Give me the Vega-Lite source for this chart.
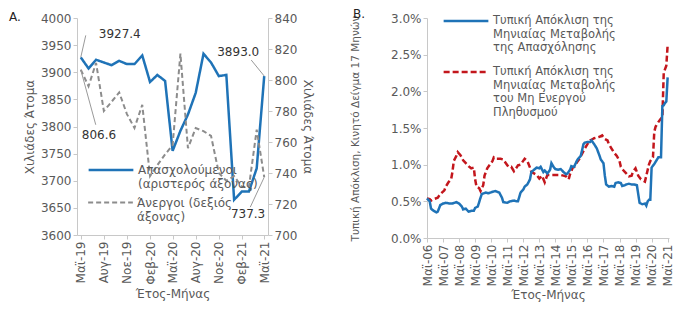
{
  "$schema": "https://vega.github.io/schema/vega-lite/v6.json",
  "background": "white",
  "padding": {"left": 9, "top": -3, "right": 5, "bottom": 5},
  "spacing": 36,
  "resolve": {"scale": {"color": "independent", "strokeDash": "independent"}, "legend": {"color": "independent", "strokeDash": "independent"}},
  "config": {
    "font": "DejaVu Sans",
    "view": {"stroke": null},
    "axis": {"labelFont": "DejaVu Sans", "labelFontSize": 12, "labelColor": "#595959", "titleFont": "DejaVu Sans", "titleFontSize": 12, "titleFontWeight": "normal", "titleColor": "#595959", "domainColor": "#c8c8c8", "tickColor": "#c8c8c8", "grid": false, "tickSize": 4},
    "legend": {"labelFont": "DejaVu Sans", "labelFontSize": 12, "labelColor": "#595959", "symbolType": "stroke", "symbolSize": 2000, "symbolStrokeWidth": 2.5, "labelLimit": 300, "orient": "none", "labelOffset": 3},
    "title": {"font": "DejaVu Sans", "fontSize": 12, "fontWeight": "normal", "color": "#222", "anchor": "start", "frame": "group"}
  },
  "datasets": {
    "panelA": [
      {"month": "2019-05", "employed": 3927.4, "unemployed": 806.6},
      {"month": "2019-06", "employed": 3907, "unemployed": 796},
      {"month": "2019-07", "employed": 3923, "unemployed": 811},
      {"month": "2019-08", "employed": 3918, "unemployed": 780},
      {"month": "2019-09", "employed": 3913, "unemployed": 786},
      {"month": "2019-10", "employed": 3921, "unemployed": 792},
      {"month": "2019-11", "employed": 3915, "unemployed": 778},
      {"month": "2019-12", "employed": 3915, "unemployed": 769},
      {"month": "2020-01", "employed": 3931, "unemployed": 784},
      {"month": "2020-02", "employed": 3882, "unemployed": 738},
      {"month": "2020-03", "employed": 3895, "unemployed": 745},
      {"month": "2020-04", "employed": 3884, "unemployed": 752},
      {"month": "2020-05", "employed": 3755, "unemployed": 758},
      {"month": "2020-06", "employed": 3792, "unemployed": 817},
      {"month": "2020-07", "employed": 3822, "unemployed": 756},
      {"month": "2020-08", "employed": 3862, "unemployed": 769},
      {"month": "2020-09", "employed": 3934, "unemployed": 767},
      {"month": "2020-10", "employed": 3918, "unemployed": 764},
      {"month": "2020-11", "employed": 3893, "unemployed": 740},
      {"month": "2020-12", "employed": 3895, "unemployed": 735},
      {"month": "2021-01", "employed": 3665, "unemployed": 738},
      {"month": "2021-02", "employed": 3680, "unemployed": 731},
      {"month": "2021-03", "employed": 3680, "unemployed": 731},
      {"month": "2021-04", "employed": 3723, "unemployed": 768},
      {"month": "2021-05", "employed": 3893.0, "unemployed": 737.3}
    ],
    "empB": [
      {"month": "2006-05", "value": 0.54}, {"month": "2006-07", "value": 0.50}, {"month": "2006-08", "value": 0.40}, {"month": "2006-10", "value": 0.37}, {"month": "2006-12", "value": 0.35},
      {"month": "2007-01", "value": 0.36}, {"month": "2007-03", "value": 0.45}, {"month": "2007-05", "value": 0.47}, {"month": "2007-07", "value": 0.48}, {"month": "2007-10", "value": 0.47}, {"month": "2007-12", "value": 0.47},
      {"month": "2008-03", "value": 0.49}, {"month": "2008-05", "value": 0.47}, {"month": "2008-07", "value": 0.43}, {"month": "2008-08", "value": 0.39}, {"month": "2008-10", "value": 0.40}, {"month": "2008-12", "value": 0.36},
      {"month": "2009-02", "value": 0.37}, {"month": "2009-04", "value": 0.37}, {"month": "2009-05", "value": 0.41}, {"month": "2009-07", "value": 0.43}, {"month": "2009-09", "value": 0.55}, {"month": "2009-10", "value": 0.60},
      {"month": "2010-01", "value": 0.62}, {"month": "2010-03", "value": 0.61}, {"month": "2010-06", "value": 0.63}, {"month": "2010-08", "value": 0.64}, {"month": "2010-11", "value": 0.62},
      {"month": "2011-01", "value": 0.55}, {"month": "2011-02", "value": 0.49}, {"month": "2011-05", "value": 0.48}, {"month": "2011-07", "value": 0.50}, {"month": "2011-10", "value": 0.51}, {"month": "2011-12", "value": 0.50},
      {"month": "2012-01", "value": 0.50}, {"month": "2012-03", "value": 0.62}, {"month": "2012-05", "value": 0.66}, {"month": "2012-06", "value": 0.70}, {"month": "2012-08", "value": 0.73}, {"month": "2012-10", "value": 0.80}, {"month": "2012-11", "value": 0.90},
      {"month": "2013-01", "value": 0.93}, {"month": "2013-03", "value": 0.96}, {"month": "2013-05", "value": 0.95}, {"month": "2013-06", "value": 0.97}, {"month": "2013-08", "value": 0.90}, {"month": "2013-09", "value": 0.92}, {"month": "2013-11", "value": 0.88},
      {"month": "2014-01", "value": 0.93}, {"month": "2014-02", "value": 1.02}, {"month": "2014-04", "value": 0.96}, {"month": "2014-05", "value": 0.94}, {"month": "2014-07", "value": 0.93}, {"month": "2014-09", "value": 0.94}, {"month": "2014-11", "value": 0.90},
      {"month": "2015-01", "value": 0.87}, {"month": "2015-02", "value": 0.88}, {"month": "2015-04", "value": 0.93}, {"month": "2015-05", "value": 0.98}, {"month": "2015-07", "value": 0.97}, {"month": "2015-09", "value": 1.05}, {"month": "2015-10", "value": 1.08}, {"month": "2015-12", "value": 1.12},
      {"month": "2016-02", "value": 1.28}, {"month": "2016-03", "value": 1.30}, {"month": "2016-05", "value": 1.31}, {"month": "2016-07", "value": 1.31}, {"month": "2016-08", "value": 1.33}, {"month": "2016-10", "value": 1.28}, {"month": "2016-12", "value": 1.22},
      {"month": "2017-02", "value": 1.12}, {"month": "2017-03", "value": 1.07}, {"month": "2017-05", "value": 1.02}, {"month": "2017-06", "value": 0.85}, {"month": "2017-07", "value": 0.73}, {"month": "2017-09", "value": 0.70}, {"month": "2017-11", "value": 0.71},
      {"month": "2018-01", "value": 0.70}, {"month": "2018-02", "value": 0.75}, {"month": "2018-04", "value": 0.76}, {"month": "2018-06", "value": 0.75}, {"month": "2018-07", "value": 0.71}, {"month": "2018-09", "value": 0.72}, {"month": "2018-10", "value": 0.73}, {"month": "2018-12", "value": 0.74},
      {"month": "2019-02", "value": 0.73}, {"month": "2019-04", "value": 0.73}, {"month": "2019-06", "value": 0.72}, {"month": "2019-07", "value": 0.60}, {"month": "2019-08", "value": 0.48}, {"month": "2019-10", "value": 0.46}, {"month": "2019-12", "value": 0.47},
      {"month": "2020-01", "value": 0.44}, {"month": "2020-02", "value": 0.50}, {"month": "2020-03", "value": 0.52}, {"month": "2020-04", "value": 0.52}, {"month": "2020-05", "value": 0.96}, {"month": "2020-07", "value": 1.01}, {"month": "2020-08", "value": 1.04}, {"month": "2020-10", "value": 1.10}, {"month": "2020-11", "value": 1.10}, {"month": "2020-12", "value": 1.10},
      {"month": "2021-01", "value": 1.80}, {"month": "2021-02", "value": 1.81}, {"month": "2021-03", "value": 1.84}, {"month": "2021-04", "value": 1.86}, {"month": "2021-05", "value": 2.19}
    ],
    "inactB": [
      {"month": "2006-05", "value": 0.54}, {"month": "2006-07", "value": 0.53}, {"month": "2006-08", "value": 0.51}, {"month": "2006-10", "value": 0.53},
      {"month": "2007-01", "value": 0.55}, {"month": "2007-03", "value": 0.60}, {"month": "2007-06", "value": 0.65}, {"month": "2007-07", "value": 0.70}, {"month": "2007-09", "value": 0.76}, {"month": "2007-11", "value": 0.80}, {"month": "2007-12", "value": 0.90},
      {"month": "2008-01", "value": 1.05}, {"month": "2008-03", "value": 1.12}, {"month": "2008-04", "value": 1.17}, {"month": "2008-06", "value": 1.13}, {"month": "2008-08", "value": 1.06}, {"month": "2008-10", "value": 1.02}, {"month": "2008-12", "value": 0.98},
      {"month": "2009-02", "value": 0.95}, {"month": "2009-04", "value": 0.96}, {"month": "2009-05", "value": 0.80}, {"month": "2009-06", "value": 0.70}, {"month": "2009-08", "value": 0.68}, {"month": "2009-09", "value": 0.64}, {"month": "2009-11", "value": 0.72}, {"month": "2009-12", "value": 0.85},
      {"month": "2010-02", "value": 0.95}, {"month": "2010-04", "value": 1.00}, {"month": "2010-06", "value": 1.05}, {"month": "2010-07", "value": 1.10}, {"month": "2010-09", "value": 1.08}, {"month": "2010-12", "value": 1.08},
      {"month": "2011-02", "value": 1.07}, {"month": "2011-04", "value": 1.02}, {"month": "2011-06", "value": 0.97}, {"month": "2011-08", "value": 0.97}, {"month": "2011-10", "value": 0.91}, {"month": "2011-12", "value": 0.96},
      {"month": "2012-01", "value": 0.99}, {"month": "2012-03", "value": 1.00}, {"month": "2012-06", "value": 1.08}, {"month": "2012-08", "value": 1.05}, {"month": "2012-10", "value": 0.96}, {"month": "2012-11", "value": 0.90},
      {"month": "2013-01", "value": 0.88}, {"month": "2013-03", "value": 0.86}, {"month": "2013-05", "value": 0.81}, {"month": "2013-07", "value": 0.85}, {"month": "2013-09", "value": 0.76}, {"month": "2013-11", "value": 0.86},
      {"month": "2014-01", "value": 0.86}, {"month": "2014-04", "value": 0.86}, {"month": "2014-06", "value": 0.86}, {"month": "2014-09", "value": 0.86}, {"month": "2014-11", "value": 0.85},
      {"month": "2015-01", "value": 0.84}, {"month": "2015-03", "value": 0.80}, {"month": "2015-04", "value": 0.87}, {"month": "2015-06", "value": 0.96}, {"month": "2015-08", "value": 0.98}, {"month": "2015-09", "value": 1.03}, {"month": "2015-11", "value": 1.08},
      {"month": "2016-01", "value": 1.15}, {"month": "2016-03", "value": 1.22}, {"month": "2016-05", "value": 1.28}, {"month": "2016-07", "value": 1.33}, {"month": "2016-09", "value": 1.35}, {"month": "2016-10", "value": 1.36}, {"month": "2016-12", "value": 1.37},
      {"month": "2017-02", "value": 1.38}, {"month": "2017-04", "value": 1.40}, {"month": "2017-06", "value": 1.35}, {"month": "2017-08", "value": 1.33}, {"month": "2017-09", "value": 1.28}, {"month": "2017-11", "value": 1.22},
      {"month": "2018-01", "value": 1.16}, {"month": "2018-03", "value": 1.12}, {"month": "2018-05", "value": 1.05}, {"month": "2018-06", "value": 0.97}, {"month": "2018-08", "value": 0.92}, {"month": "2018-10", "value": 0.88}, {"month": "2018-12", "value": 0.84},
      {"month": "2019-02", "value": 0.85}, {"month": "2019-03", "value": 0.90}, {"month": "2019-05", "value": 0.95}, {"month": "2019-06", "value": 0.90}, {"month": "2019-07", "value": 0.85}, {"month": "2019-09", "value": 0.80}, {"month": "2019-11", "value": 0.78}, {"month": "2019-12", "value": 0.77},
      {"month": "2020-01", "value": 0.85}, {"month": "2020-03", "value": 1.00}, {"month": "2020-04", "value": 1.05}, {"month": "2020-06", "value": 1.10}, {"month": "2020-07", "value": 1.45}, {"month": "2020-08", "value": 1.52}, {"month": "2020-10", "value": 1.58}, {"month": "2020-12", "value": 1.63},
      {"month": "2021-01", "value": 1.64}, {"month": "2021-02", "value": 2.25}, {"month": "2021-03", "value": 2.30}, {"month": "2021-04", "value": 2.35}, {"month": "2021-05", "value": 2.63}
    ]
  },
  "hconcat": [
    {
      "title": {"text": "A.", "offset": -12, "dx": -68},
      "width": 191,
      "height": 217,
      "data": {"name": "panelA"},
      "encoding": {
        "x": {
          "field": "month", "type": "temporal",
          "scale": {"type": "utc", "domain": [{"year": 2019, "month": 4, "date": 16, "utc": true}, {"year": 2021, "month": 5, "date": 16, "utc": true}]},
          "axis": {
            "title": "Έτος-Μήνας", "labelAngle": -90, "labelOverlap": false,
            "values": [{"year": 2019, "month": 5, "date": 1, "utc": true}, {"year": 2019, "month": 8, "date": 1, "utc": true}, {"year": 2019, "month": 11, "date": 1, "utc": true}, {"year": 2020, "month": 2, "date": 1, "utc": true}, {"year": 2020, "month": 5, "date": 1, "utc": true}, {"year": 2020, "month": 8, "date": 1, "utc": true}, {"year": 2020, "month": 11, "date": 1, "utc": true}, {"year": 2021, "month": 2, "date": 1, "utc": true}, {"year": 2021, "month": 5, "date": 1, "utc": true}],
            "labelExpr": "['Ιαν','Φεβ','Μαρ','Απρ','Μαϊ','Ιουν','Ιουλ','Αυγ','Σεπ','Οκτ','Νοε','Δεκ'][utcmonth(datum.value)] + '-' + utcFormat(datum.value, '%y')"
          }
        }
      },
      "layer": [
        {
          "encoding": {
            "y": {"field": "employed", "type": "quantitative", "scale": {"domain": [3600, 4000], "nice": false, "zero": false}, "axis": {"title": "Χιλιάδες Άτομα", "values": [3600, 3650, 3700, 3750, 3800, 3850, 3900, 3950, 4000], "format": "d"}}
          },
          "layer": [
            {
              "mark": {"type": "line", "strokeWidth": 2.5},
              "encoding": {
                "color": {"datum": "Απασχολούμενοι", "type": "nominal", "scale": {"domain": ["Απασχολούμενοι", "Άνεργοι"], "range": ["#1f73b7", "#8c8c8c"]}, "legend": {"title": null, "values": ["Απασχολούμενοι"], "legendX": 10, "legendY": 128, "labelExpr": "['Απασχολούμενοι', '(αριστερός άξονας)']"}},
                "strokeDash": {"datum": "Απασχολούμενοι", "type": "nominal", "scale": {"domain": ["Άνεργοι", "Απασχολούμενοι"], "range": [[5, 3], [1, 0]]}, "legend": {"title": null, "values": ["Άνεργοι"], "legendX": 10, "legendY": 161, "symbolStrokeColor": "#8c8c8c", "symbolStrokeWidth": 2, "labelExpr": "['Άνεργοι (δεξιός', 'άξονας)']"}}
              }
            },
            {
              "transform": [{"filter": "utcyear(datum.month) == 2019 && utcmonth(datum.month) == 4"}],
              "mark": {"type": "rule", "color": "#9a9a9a", "strokeWidth": 1, "x2Offset": 5, "y2Offset": -22},
              "encoding": {"x2": {"field": "month"}, "y2": {"field": "employed"}}
            },
            {
              "transform": [{"filter": "utcyear(datum.month) == 2019 && utcmonth(datum.month) == 4"}],
              "mark": {"type": "text", "align": "left", "baseline": "middle", "dx": 18, "dy": -23, "fontSize": 12, "color": "#333"},
              "encoding": {"text": {"field": "employed", "type": "quantitative", "format": ".1f"}}
            },
            {
              "transform": [{"filter": "utcyear(datum.month) == 2021 && utcmonth(datum.month) == 4"}],
              "mark": {"type": "rule", "color": "#9a9a9a", "strokeWidth": 1, "x2Offset": -13, "y2Offset": -16},
              "encoding": {"x2": {"field": "month"}, "y2": {"field": "employed"}}
            },
            {
              "transform": [{"filter": "utcyear(datum.month) == 2021 && utcmonth(datum.month) == 4"}],
              "mark": {"type": "text", "align": "right", "baseline": "middle", "dx": -5, "dy": -24, "fontSize": 12, "color": "#333"},
              "encoding": {"text": {"field": "employed", "type": "quantitative", "format": ".1f"}}
            }
          ]
        },
        {
          "encoding": {
            "y": {"field": "unemployed", "type": "quantitative", "scale": {"domain": [700, 840], "nice": false, "zero": false}, "axis": {"title": "Χιλιάδες Άτομα", "orient": "right", "values": [700, 720, 740, 760, 780, 800, 820, 840], "format": "d"}}
          },
          "layer": [
            {
              "mark": {"type": "line", "strokeWidth": 2},
              "encoding": {
                "color": {"datum": "Άνεργοι", "type": "nominal"},
                "strokeDash": {"datum": "Άνεργοι", "type": "nominal"}
              }
            },
            {
              "transform": [{"filter": "utcyear(datum.month) == 2019 && utcmonth(datum.month) == 4"}],
              "mark": {"type": "rule", "color": "#9a9a9a", "strokeWidth": 1, "x2Offset": 15, "y2Offset": 55},
              "encoding": {"x2": {"field": "month"}, "y2": {"field": "unemployed"}}
            },
            {
              "transform": [{"filter": "utcyear(datum.month) == 2019 && utcmonth(datum.month) == 4"}],
              "mark": {"type": "text", "align": "left", "baseline": "middle", "dx": 1, "dy": 65, "fontSize": 12, "color": "#333"},
              "encoding": {"text": {"field": "unemployed", "type": "quantitative", "format": ".1f"}}
            },
            {
              "transform": [{"filter": "utcyear(datum.month) == 2021 && utcmonth(datum.month) == 4"}],
              "mark": {"type": "rule", "color": "#9a9a9a", "strokeWidth": 1, "x2Offset": -14, "y2Offset": 30},
              "encoding": {"x2": {"field": "month"}, "y2": {"field": "unemployed"}}
            },
            {
              "transform": [{"filter": "utcyear(datum.month) == 2021 && utcmonth(datum.month) == 4"}],
              "mark": {"type": "text", "align": "right", "baseline": "middle", "dx": 1, "dy": 37, "fontSize": 12, "color": "#333"},
              "encoding": {"text": {"field": "unemployed", "type": "quantitative", "format": ".1f"}}
            }
          ]
        }
      ],
      "resolve": {"scale": {"y": "independent"}}
    },
    {
      "title": {"text": "B.", "offset": -24, "dx": -74},
      "width": 242,
      "height": 220,
      "encoding": {
        "x": {
          "field": "month", "type": "temporal",
          "scale": {"type": "utc", "domain": [{"year": 2006, "month": 5, "date": 1, "utc": true}, {"year": 2021, "month": 6, "date": 1, "utc": true}]},
          "axis": {
            "title": "Έτος-Μήνας", "labelAngle": -90, "labelOverlap": false,
            "values": [{"year": 2006, "month": 5, "date": 1, "utc": true}, {"year": 2007, "month": 5, "date": 1, "utc": true}, {"year": 2008, "month": 5, "date": 1, "utc": true}, {"year": 2009, "month": 5, "date": 1, "utc": true}, {"year": 2010, "month": 5, "date": 1, "utc": true}, {"year": 2011, "month": 5, "date": 1, "utc": true}, {"year": 2012, "month": 5, "date": 1, "utc": true}, {"year": 2013, "month": 5, "date": 1, "utc": true}, {"year": 2014, "month": 5, "date": 1, "utc": true}, {"year": 2015, "month": 5, "date": 1, "utc": true}, {"year": 2016, "month": 5, "date": 1, "utc": true}, {"year": 2017, "month": 5, "date": 1, "utc": true}, {"year": 2018, "month": 5, "date": 1, "utc": true}, {"year": 2019, "month": 5, "date": 1, "utc": true}, {"year": 2020, "month": 5, "date": 1, "utc": true}, {"year": 2021, "month": 5, "date": 1, "utc": true}],
            "labelExpr": "'Μαϊ-' + utcFormat(datum.value, '%y')"
          }
        },
        "y": {"field": "value", "type": "quantitative", "scale": {"domain": [0, 3], "nice": false}, "axis": {"title": "Τυπική Απόκλιση, Κινητό Δείγμα 17 Μηνών", "titleFontSize": 10.5, "titlePadding": 30, "values": [0, 0.5, 1, 1.5, 2, 2.5, 3], "labelExpr": "format(datum.value, '.1f') + '%'"}}
      },
      "layer": [
        {
          "data": {"name": "inactB"},
          "mark": {"type": "line", "strokeWidth": 2.5},
          "encoding": {
            "color": {"datum": "Μη Ενεργός", "type": "nominal", "scale": {"domain": ["Απασχόληση", "Μη Ενεργός"], "range": ["#1f73b7", "#c3161c"]}, "legend": {"title": null, "values": ["Απασχόληση"], "legendX": 15, "legendY": -21, "labelFontSize": 11.5, "labelExpr": "['Τυπική Απόκλιση της', 'Μηνιαίας Μεταβολής', 'της Απασχόλησης']", "encode": {"symbols": {"update": {"stroke": {"value": "#1f73b7"}, "strokeDash": {"value": [1, 0]}}}}}},
            "strokeDash": {"datum": "Μη Ενεργός", "type": "nominal", "scale": {"domain": ["Μη Ενεργός", "Απασχόληση"], "range": [[6, 3], [1, 0]]}, "legend": {"title": null, "values": ["Μη Ενεργός"], "legendX": 15, "legendY": 30, "labelFontSize": 11.5, "labelExpr": "['Τυπική Απόκλιση της', 'Μηνιαίας Μεταβολής', 'του Μη Ενεργού', 'Πληθυσμού']", "encode": {"symbols": {"update": {"stroke": {"value": "#c3161c"}, "strokeDash": {"value": [6, 3]}}}}}}
          }
        },
        {
          "data": {"name": "empB"},
          "mark": {"type": "line", "strokeWidth": 2.5},
          "encoding": {
            "color": {"datum": "Απασχόληση", "type": "nominal"},
            "strokeDash": {"datum": "Απασχόληση", "type": "nominal"}
          }
        }
      ]
    }
  ]
}
